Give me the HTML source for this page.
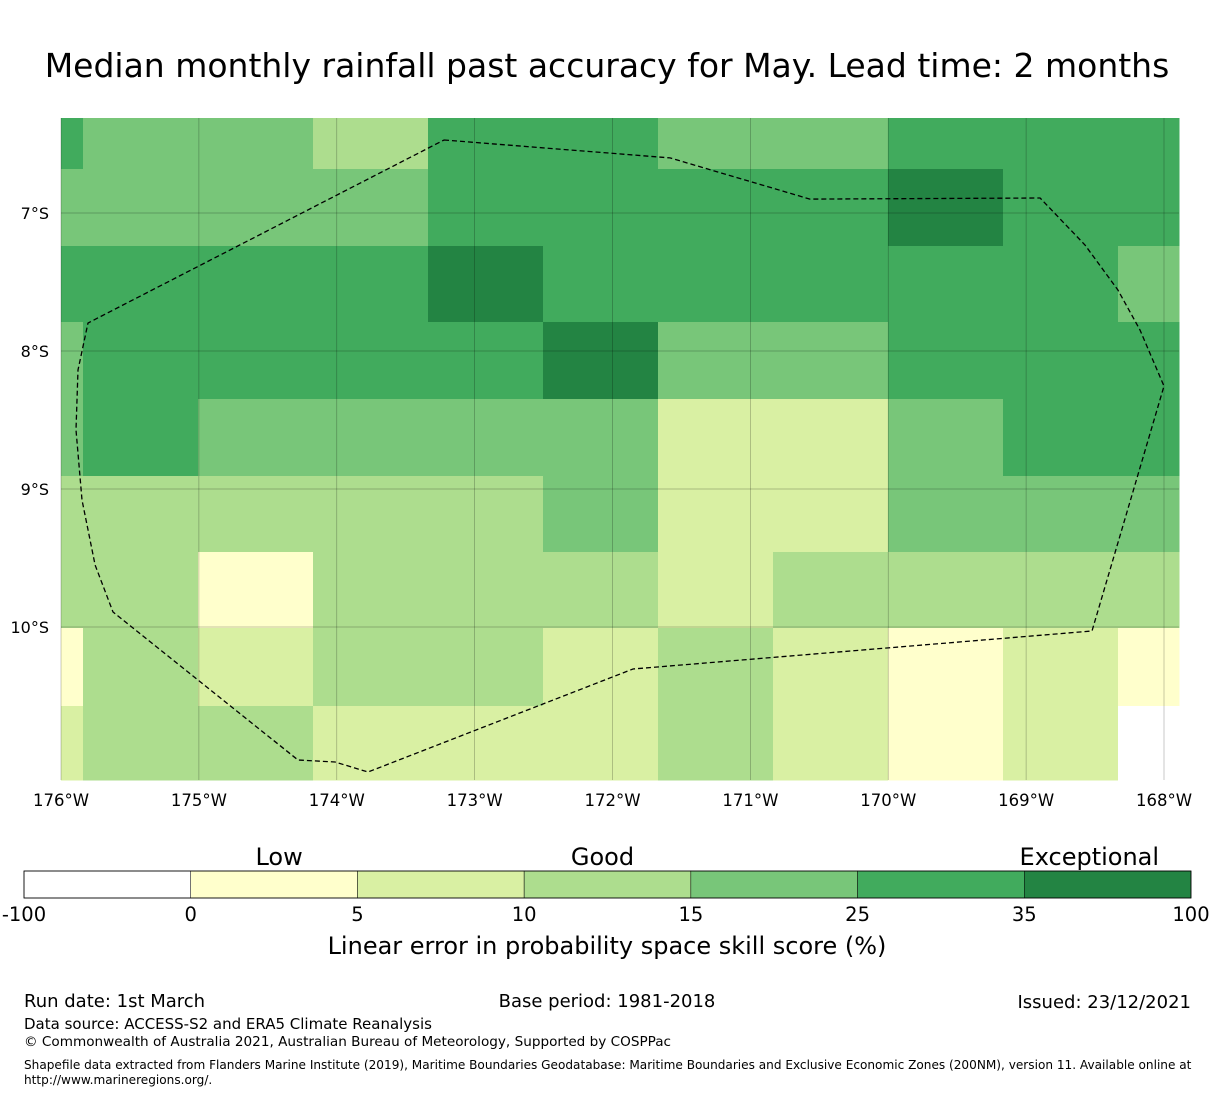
<!DOCTYPE html>
<html><head><meta charset="utf-8"><style>
body{margin:0;background:#fff;font-family:"Liberation Sans","DejaVu Sans",sans-serif;}
svg text{font-family:"DejaVu Sans","Liberation Sans",sans-serif;}
</style></head><body>
<svg id="chart" width="1215" height="1095" viewBox="0 0 1215 1095" xmlns="http://www.w3.org/2000/svg">
<text x="607" y="77" font-size="33" text-anchor="middle">Median monthly rainfall past accuracy for May. Lead time: 2 months</text>
<g id="map"></g>
<g id="cbar"></g>
<text x="607" y="954" font-size="24" text-anchor="middle">Linear error in probability space skill score (%)</text>
<text x="24" y="1007" font-size="18">Run date: 1st March</text>
<text x="607" y="1007" font-size="18" text-anchor="middle">Base period: 1981-2018</text>
<text x="1191" y="1008" font-size="18" text-anchor="end">Issued: 23/12/2021</text>
<text x="24" y="1029" font-size="15">Data source: ACCESS-S2 and ERA5 Climate Reanalysis</text>
<text x="24" y="1046" font-size="13.6">© Commonwealth of Australia 2021, Australian Bureau of Meteorology, Supported by COSPPac</text>
<text x="24" y="1069" font-size="12.1">Shapefile data extracted from Flanders Marine Institute (2019), Maritime Boundaries Geodatabase: Maritime Boundaries and Exclusive Economic Zones (200NM), version 11. Available online at</text>
<text x="24" y="1084" font-size="12.1">http://www.marineregions.org/.</text>
</svg>
<script>
const lonTicks=[176,175,174,173,172,171,170,169,168];
const latTicks=[7,8,9,10];
const skillLevels=[
[5,4,4,3,5,5,4,4,5,5,5],
[4,4,4,4,5,5,5,5,6,5,5],
[5,5,5,5,6,5,5,5,5,5,4],
[4,5,5,5,5,6,4,4,5,5,5],
[4,5,4,4,4,4,2,2,4,5,5],
[3,3,3,3,3,4,2,2,4,4,4],
[3,3,1,3,3,3,2,3,3,3,3],
[1,3,2,3,3,2,3,2,1,2,1],
[2,3,3,2,2,2,3,2,1,2,0]];
const binLabels=["-100","0","5","10","15","25","35","100"];
const binColors=["#ffffff","#ffffcc","#d9f0a3","#addd8e","#78c679","#41ab5d","#238443"];
const categoryLabels=["Low","Good","Exceptional"];
const categoryBins=[1.53,3.47,6.39];
// boundary in lon (deg W) / lat (deg S)
const eezLon=[173.222,171.583,170.568,168.899,168.573,168.334,168.174,168.0,168.522,171.851,173.773,174.013,174.281,175.623,175.753,175.848,175.891,175.877,175.804,173.222];
const eezLat=[6.471,6.601,6.899,6.891,7.232,7.558,7.848,8.254,10.029,10.304,11.051,10.978,10.964,9.891,9.551,9.080,8.572,8.138,7.797,6.471];

const NS="http://www.w3.org/2000/svg";
function mk(tag,attrs,parent){const e=document.createElementNS(NS,tag);for(const k in attrs)e.setAttribute(k,attrs[k]);parent.appendChild(e);return e;}
const X0=61,X1=1179,Y0=118,Y1=780;
const xLon=lon=>61+(176-lon)*137.875;
const yLat=lat=>213+(lat-7)*138;
const map=document.getElementById('map');
const colEdges=[61,83,198,313,428,543,658,773,888,1003,1118,1179];
const rowEdges=[118,169,246,322,399,476,552,628,706,780];
skillLevels.forEach((row,r)=>row.forEach((v,c)=>{
  const rc=mk('rect',{x:colEdges[c],y:rowEdges[r],width:colEdges[c+1]-colEdges[c]+0.5,height:rowEdges[r+1]-rowEdges[r]+0.5,fill:binColors[v]},map);
  
  
}));
lonTicks.forEach(l=>{
  const x=xLon(l);
  const gl=mk('line',{x1:x,x2:x,y1:Y0,y2:Y1,stroke:'#000','stroke-opacity':0.3,'stroke-width':0.7},map);
  
  
  const t=mk('text',{x:x,y:806,'font-size':16.5,'text-anchor':'middle'},map);t.textContent=l+'°W';
  
  
});
latTicks.forEach(l=>{
  const y=yLat(l);
  const gl=mk('line',{x1:X0,x2:X1,y1:y,y2:y,stroke:'#000','stroke-opacity':0.3,'stroke-width':0.7},map);
  
  
  const t=mk('text',{x:49,y:y+6,'font-size':16,'text-anchor':'end'},map);t.textContent=l+'°S';
  
  
});
const pts=eezLon.map((l,i)=>xLon(l).toFixed(1)+','+yLat(eezLat[i]).toFixed(1)).join(' ');
const eez=mk('polyline',{points:pts,fill:'none',stroke:'#000','stroke-width':1.3,'stroke-dasharray':'5,3'},map);



const cb=document.getElementById('cbar');
const CX0=24,CX1=1191,CY=871,CH=27,w=(CX1-CX0)/binColors.length;
binColors.forEach((c,i)=>{
  const r=mk('rect',{x:CX0+i*w,y:CY,width:w,height:CH,fill:c,stroke:'#000','stroke-width':0.5},cb);
  
  
});
mk('rect',{x:CX0,y:CY,width:CX1-CX0,height:CH,fill:'none',stroke:'#000','stroke-width':0.8},cb);
binLabels.forEach((s,i)=>{
  const t=mk('text',{x:CX0+i*w,y:921,'font-size':19.5,'text-anchor':'middle'},cb);t.textContent=s;
  
  
});
categoryLabels.forEach((s,i)=>{
  const t=mk('text',{x:CX0+categoryBins[i]*w,y:865,'font-size':24,'text-anchor':'middle'},cb);t.textContent=s;
  
  
});
</script>
</body></html>
